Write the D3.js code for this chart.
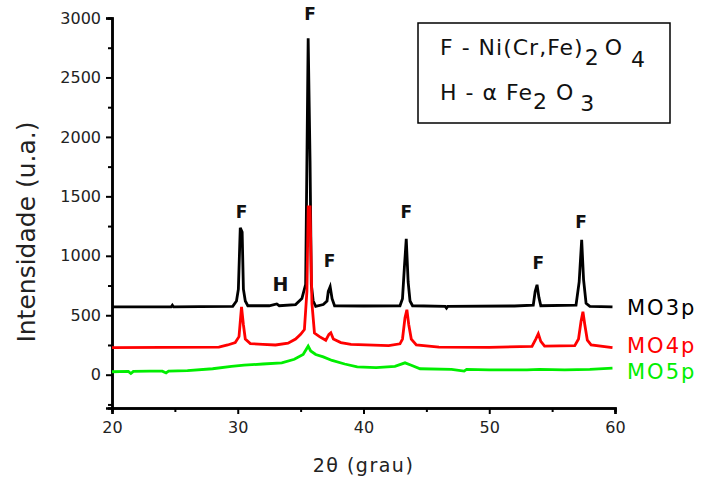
<!DOCTYPE html>
<html>
<head>
<meta charset="utf-8">
<script src="https://cdn.jsdelivr.net/npm/d3@7"></script>
<style>
  body { margin: 0; background: #fff; }
  text { font-family: "DejaVu Sans", Arial, sans-serif; }
</style>
</head>
<body>
<div id="chart"></div>
<script>
// 2theta / intensity pairs
var mo3p = [[20,570],[22.5,570],[24.7,570],[24.8,585],[24.9,570],[27,572],[29.6,575],[29.9,620],[30.05,720],
  [30.2,1235],[30.35,1200],[30.45,720],[30.6,620],[30.8,580],[32.5,580],[33.1,595],[33.3,580],[34.6,590],
  [35.1,640],[35.4,760],[35.6,2830],[35.75,1800],[35.85,760],[36.0,620],[36.2,575],[36.8,590],[37.1,620],
  [37.2,700],[37.35,740],[37.5,640],[37.7,580],[40,578],[42.9,580],[43.1,640],[43.25,900],[43.4,1142],
  [43.55,780],[43.7,620],[43.9,580],[46.5,575],[46.6,560],[46.7,575],[52,578],[53.5,585],[53.65,700],
  [53.8,756],[53.95,650],[54.1,580],[56.9,585],[57.15,780],[57.35,1134],[57.5,800],[57.7,600],[58,575],[59.8,570]];

var mo4p = [[20,227],[24,230],[28.5,232],[29.2,250],[29.8,270],[30.1,320],[30.3,571],[30.45,420],[30.6,300],
  [31,262],[32,255],[33,250],[34,265],[34.6,300],[35.0,340],[35.3,380],[35.5,700],[35.6,1411],[35.75,1411],
  [35.9,600],[36.1,350],[36.5,320],[37.0,290],[37.25,340],[37.4,353],[37.6,300],[38.2,270],[39,255],[42,245],
  [42.9,260],[43.1,300],[43.3,480],[43.45,546],[43.6,420],[43.8,300],[44.2,250],[46,232],[50,230],[53.4,238],
  [53.7,300],[53.9,344],[54.1,280],[54.4,240],[56.8,245],[57.1,300],[57.3,450],[57.45,530],[57.6,420],
  [57.8,290],[58.1,250],[59.8,227]];

var mo5p = [[20,25],[21.3,28],[21.5,10],[21.7,28],[23,30],[24,30],[24.3,15],[24.5,30],[26,35],[28,50],
  [29.5,70],[30.5,80],[32,90],[33.5,100],[34.5,130],[35.2,170],[35.6,240],[35.8,200],[36.2,170],[36.8,150],
  [37.5,120],[38.5,90],[39.5,65],[41,60],[42.5,70],[43.3,100],[43.8,80],[44.5,50],[47,45],[48,30],[48.2,45],
  [50,40],[53,40],[54,45],[56,40],[58,45],[59.8,55]];

var seriesNames = ["MO3p", "MO4p", "MO5p"];
var seriesColors = ["#000000", "#ff0000", "#00ee00"];
var seriesData = [mo3p, mo4p, mo5p];
var seriesLabelY = [570, 250, 30];

// peak markers: [2theta, intensity, label]
var peakLabels = [[30.3,1320,"F"],[35.75,2980,"F"],[37.3,910,"F"],[43.4,1320,"F"],[53.9,890,"F"],[57.3,1230,"F"]];
var hLabel = [33.4, 700, "H"];

var xTicks = [20, 30, 40, 50, 60];
var yTicks = [0, 500, 1000, 1500, 2000, 2500, 3000];

var margin = { left:112, right:90, top:18, bottom:76 };
var width = 705 - margin.left - margin.right;
var height = 484 - margin.top - margin.bottom;

var svg = d3.select("#chart").append("svg")
    .attr("width", 705)
    .attr("height", 484);
var g = svg.append("g")
    .attr("transform", "translate(" + margin.left + "," + margin.top + ")");

var x = d3.scaleLinear().domain([20, 60]).range([0, width]);
var y = d3.scaleLinear().domain([-280, 3000]).range([height, 0]);

// axes
var xAxis = g.append("g")
    .attr("transform", "translate(0," + height + ")")
    .call(d3.axisBottom(x).tickValues(xTicks).tickSize(6).tickFormat(d3.format("d")));
g.append("g")
    .attr("transform", "translate(0," + height + ")")
    .call(d3.axisBottom(x).tickValues([25, 35, 45, 55]).tickSize(4).tickFormat(""));
var yAxis = g.append("g")
    .call(d3.axisLeft(y).tickValues(yTicks).tickSize(6).tickFormat(d3.format("d")));
g.append("g")
    .call(d3.axisLeft(y).tickValues([-250, 250, 750, 1250, 1750, 2250, 2750]).tickSize(4).tickFormat(""));

g.selectAll(".domain").attr("stroke", "#000").attr("stroke-width", 2.5);
g.selectAll(".tick line").attr("stroke", "#000").attr("stroke-width", 2);
g.selectAll(".tick text")
    .attr("font-size", "16px")
    .attr("fill", "#222");
xAxis.selectAll(".tick text").attr("dy", "1.0em");
yAxis.selectAll(".tick text").attr("x", -11);

// axis titles
g.append("text")
    .attr("transform", "rotate(-90)")
    .attr("x", -(y(1200)))
    .attr("y", -77)
    .attr("text-anchor", "middle")
    .attr("font-size", "25px")
    .attr("fill", "#222")
    .text("Intensidade (u.a.)");
g.append("text")
    .attr("x", x(40))
    .attr("y", height + 64)
    .attr("text-anchor", "middle")
    .attr("font-size", "19px")
    .attr("letter-spacing", "1.5px")
    .attr("fill", "#222")
    .text("2θ (grau)");

// patterns
var line = d3.line()
    .x(function(d){ return x(d[0]); })
    .y(function(d){ return y(d[1]); })
    .curve(d3.curveLinear);

seriesData.forEach(function(s, i){
    g.append("path")
        .attr("d", line(s))
        .attr("fill", "none")
        .attr("stroke", seriesColors[i])
        .attr("stroke-width", 2.8)
        .attr("stroke-linejoin", "miter");
    g.append("text")
        .attr("x", x(60) + 12)
        .attr("y", y(seriesLabelY[i]) + 8)
        .attr("font-size", "21px")
        .attr("letter-spacing", "2px")
        .attr("fill", seriesColors[i])
        .text(seriesNames[i]);
});

// peak labels
g.selectAll(".peak")
    .data(peakLabels)
    .enter().append("text")
    .attr("class", "peak")
    .attr("x", function(d){ return x(d[0]); })
    .attr("y", function(d){ return y(d[1]); })
    .attr("text-anchor", "middle")
    .attr("font-size", "17px")
    .attr("font-weight", "bold")
    .attr("fill", "#111")
    .text(function(d){ return d[2]; });
g.append("text")
    .attr("x", x(hLabel[0]))
    .attr("y", y(hLabel[1]))
    .attr("text-anchor", "middle")
    .attr("font-family", "Liberation Serif, serif")
    .attr("font-size", "19px")
    .attr("font-weight", "bold")
    .attr("fill", "#111")
    .text(hLabel[2]);

// phase legend box
var leg = svg.append("g").attr("transform", "translate(418,23)");
leg.append("rect")
    .attr("width", 252).attr("height", 100)
    .attr("fill", "#fff").attr("stroke", "#000").attr("stroke-width", 1.5);
var t1 = leg.append("text").attr("x", 22).attr("y", 32).attr("font-size", "22px")
    .attr("letter-spacing", "1px").attr("fill", "#111");
t1.append("tspan").text("F -  Ni(Cr,Fe)");
t1.append("tspan").attr("dy", 10).attr("dx", 1).text("2");
t1.append("tspan").attr("dy", -10).attr("dx", 5).text("O");
t1.append("tspan").attr("dy", 12).attr("dx", 8).text("4");
var t2 = leg.append("text").attr("x", 22).attr("y", 77).attr("font-size", "22px")
    .attr("letter-spacing", "1px").attr("fill", "#111");
t2.append("tspan").text("H - α Fe");
t2.append("tspan").attr("dy", 9).text("2");
t2.append("tspan").attr("dy", -9).attr("dx", 8).text("O");
t2.append("tspan").attr("dy", 11).attr("dx", 6).text("3");
</script>
</body>
</html>
